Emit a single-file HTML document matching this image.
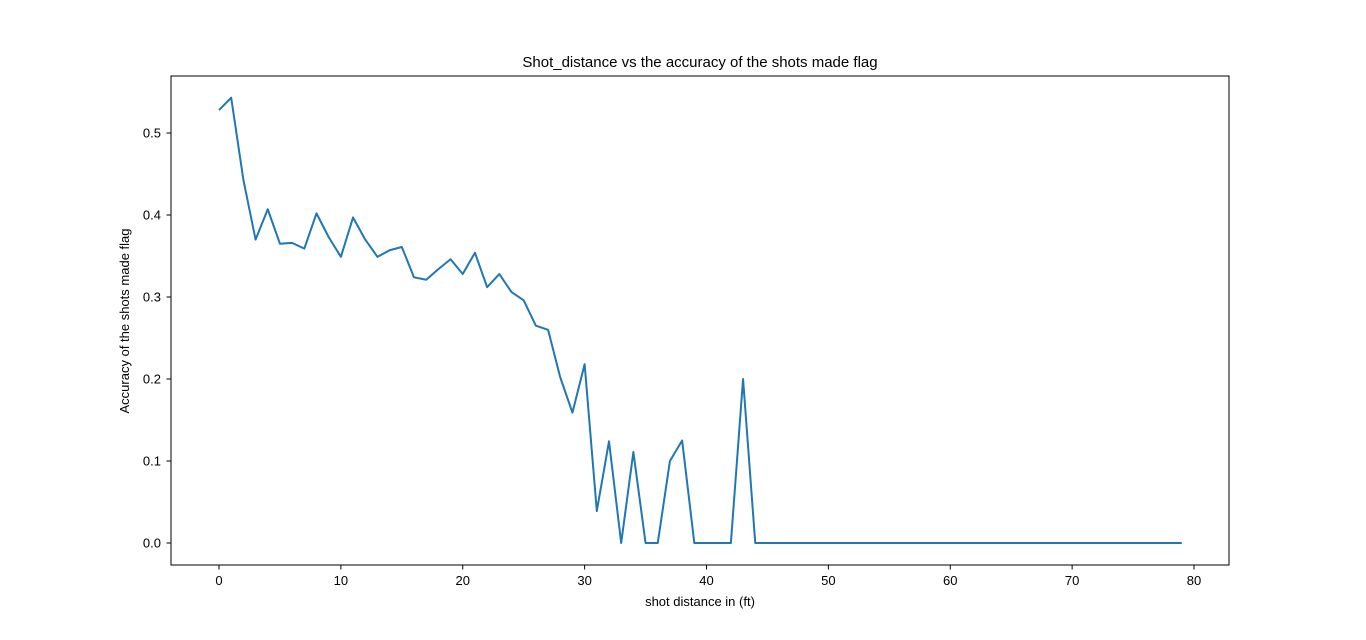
<!DOCTYPE html>
<html><head><meta charset="utf-8"><style>
html,body{margin:0;padding:0;background:#fff;}
text{font-family:"Liberation Sans","DejaVu Sans",sans-serif;fill:#000;}
</style></head><body>
<svg id="chart" width="1366" height="635">
<rect x="0" y="0" width="1366" height="635" fill="#fff"/>
<text x="700" y="67" font-size="15" text-anchor="middle">Shot_distance vs the accuracy of the shots made flag</text>
<g id="plot"></g>
<rect x="171" y="76" width="1058" height="489" fill="none" stroke="#000" stroke-width="1"/>
<text x="700" y="606" font-size="13" text-anchor="middle">shot distance in (ft)</text>
<text x="0" y="0" font-size="13" text-anchor="middle" transform="translate(129,321) rotate(-90)">Accuracy of the shots made flag</text>
</svg>
<script>
const distances = Array.from({length:80},(_, i)=>i);
const accuracy = [0.528,0.543,0.443,0.370,0.407,0.365,0.366,0.359,0.402,0.373,
0.349,0.397,0.370,0.349,0.357,0.361,0.324,0.321,0.334,0.346,
0.328,0.354,0.312,0.328,0.306,0.296,0.265,0.260,0.202,0.159,
0.218,0.039,0.124,0,0.111,0,0,0.100,0.125,0,
0,0,0,0.200,0,0,0,0,0,0,
0,0,0,0,0,0,0,0,0,0,0,0,0,0,0,0,0,0,0,0,
0,0,0,0,0,0,0,0,0,0];
const xTicks = [0,10,20,30,40,50,60,70,80];
const yTicks = [0.0,0.1,0.2,0.3,0.4,0.5];
const NS="http://www.w3.org/2000/svg";
const xs = v => 219 + v*12.1875;
const ys = v => 543 - v*820;
const g = document.getElementById('plot');
xTicks.forEach(t=>{
  const l=document.createElementNS(NS,'line');
  l.setAttribute('x1',xs(t));l.setAttribute('x2',xs(t));l.setAttribute('y1',565);l.setAttribute('y2',569.5);l.setAttribute('stroke','#000');
  
  
  g.appendChild(l);
  const tx=document.createElementNS(NS,'text');
  tx.setAttribute('x',xs(t));tx.setAttribute('y',585);tx.setAttribute('font-size','13');tx.setAttribute('text-anchor','middle');
  tx.textContent=t;
  
  
  g.appendChild(tx);
});
yTicks.forEach(t=>{
  const l=document.createElementNS(NS,'line');
  l.setAttribute('x1',166.5);l.setAttribute('x2',171);l.setAttribute('y1',ys(t));l.setAttribute('y2',ys(t));l.setAttribute('stroke','#000');
  
  
  g.appendChild(l);
  const tx=document.createElementNS(NS,'text');
  tx.setAttribute('x',161);tx.setAttribute('y',ys(t)+4.5);tx.setAttribute('font-size','13');tx.setAttribute('text-anchor','end');
  tx.textContent=t.toFixed(1);
  
  
  g.appendChild(tx);
});
const p=document.createElementNS(NS,'polyline');
p.setAttribute('points',distances.map((d,i)=>xs(d)+','+ys(accuracy[i])).join(' '));
p.setAttribute('fill','none');p.setAttribute('stroke','#1f77b4');p.setAttribute('stroke-width','2');p.setAttribute('stroke-linejoin','round');


g.appendChild(p);
</script>
</body></html>
